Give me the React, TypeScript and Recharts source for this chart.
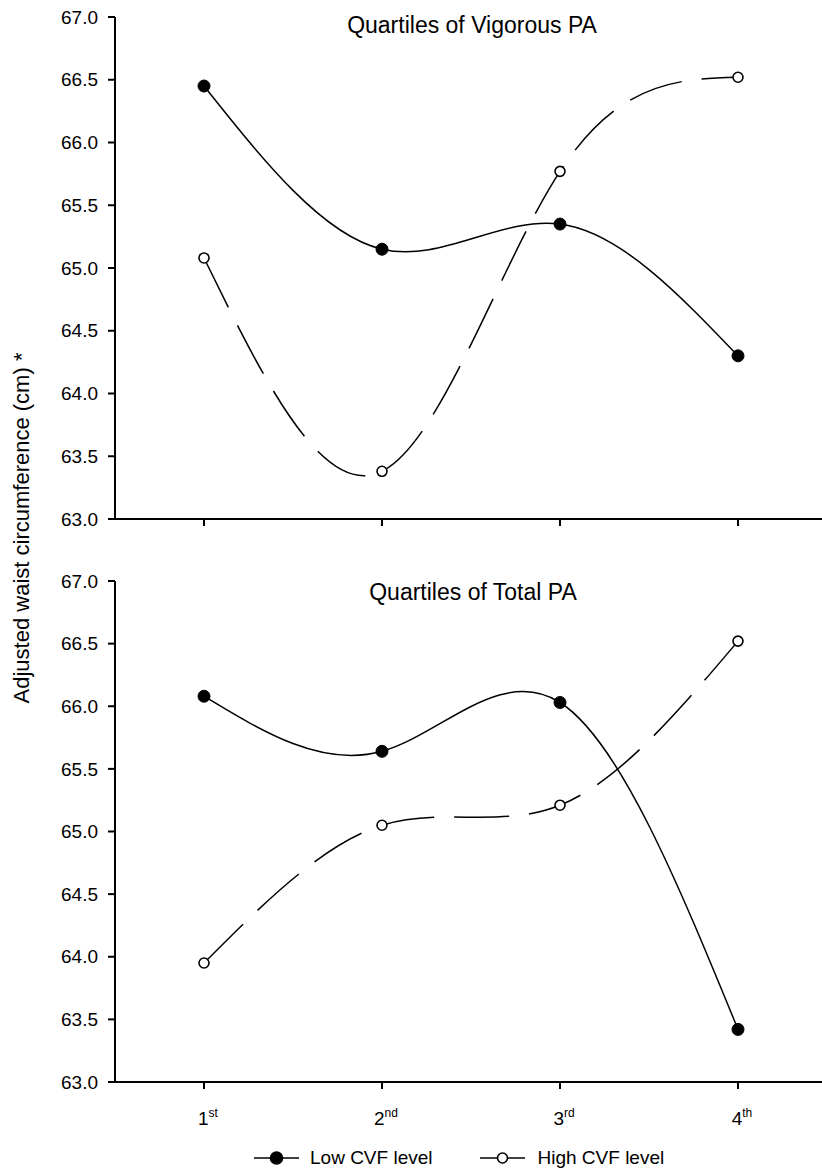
import React from "react";
import { LineChart, Line, XAxis, YAxis } from "recharts";

const quartilePositions = [1, 2, 3, 4];
const quartileNums = ["1", "2", "3", "4"];
const quartileSuffixes = ["st", "nd", "rd", "th"];

const vigorousLow = [66.45, 65.15, 65.35, 64.3];
const vigorousHigh = [65.08, 63.38, 65.77, 66.52];
const totalLow = [66.08, 65.64, 66.03, 63.42];
const totalHigh = [63.95, 65.05, 65.21, 66.52];

const yTicks = [63, 63.5, 64, 64.5, 65, 65.5, 66, 66.5, 67];

const seriesNames = ["Low CVF level", "High CVF level"];
const panelTitles = ["Quartiles of Vigorous PA", "Quartiles of Total PA"];
const yAxisTitle = "Adjusted waist circumference (cm) *";

const FONT = "'Liberation Sans', Arial, sans-serif";

const buildData = (low: number[], high: number[]) =>
  quartilePositions.map((q, i) => ({ q, low: low[i], high: high[i] }));

const QuartileTick = (props: any) => {
  const { x, y, payload } = props;
  const i = quartilePositions.indexOf(payload.value);
  if (i < 0) return <g />;
  return (
    <text x={x + 4} y={y + 34} textAnchor="middle" fontSize={19} fill="#000" fontFamily={FONT}>
      {quartileNums[i]}
      <tspan fontSize={12} dy={-8}>
        {quartileSuffixes[i]}
      </tspan>
    </text>
  );
};

const FilledDot = (props: any) => {
  const { cx, cy, index } = props;
  return <circle key={`f-${index}`} cx={cx} cy={cy} r={6} fill="#000" stroke="#000" strokeWidth={1} />;
};

const OpenDot = (props: any) => {
  const { cx, cy, index } = props;
  return <circle key={`o-${index}`} cx={cx} cy={cy} r={5} fill="#fff" stroke="#000" strokeWidth={1.6} />;
};

function Panel({
  data,
  top,
  height,
  marginTop,
  marginBottom,
  xAxisHeight,
  showLabels,
}: {
  data: { q: number; low: number; high: number }[];
  top: number;
  height: number;
  marginTop: number;
  marginBottom: number;
  xAxisHeight: number;
  showLabels: boolean;
}) {
  return (
    <div style={{ position: "absolute", left: 0, top }}>
      <LineChart
        width={840}
        height={height}
        data={data}
        margin={{ top: marginTop, right: 13, bottom: marginBottom, left: 0 }}
      >
        <XAxis
          dataKey="q"
          type="number"
          domain={[0.5, 4.5]}
          ticks={quartilePositions}
          interval={0}
          height={xAxisHeight}
          tickSize={7}
          axisLine={{ stroke: "#000", strokeWidth: 2 }}
          tickLine={{ stroke: "#000", strokeWidth: 2 }}
          tick={showLabels ? <QuartileTick /> : () => <g />}
        />
        <YAxis
          type="number"
          domain={[63, 67]}
          ticks={yTicks}
          interval={0}
          width={115}
          tickSize={7}
          tickMargin={10}
          tickFormatter={(v: number) => v.toFixed(1)}
          axisLine={{ stroke: "#000", strokeWidth: 2 }}
          tickLine={{ stroke: "#000", strokeWidth: 2 }}
          tick={{ fill: "#000", fontSize: 19, fontFamily: FONT }}
        />
        <Line
          type="natural"
          dataKey="low"
          name={seriesNames[0]}
          stroke="#000"
          strokeWidth={1.5}
          dot={<FilledDot />}
          isAnimationActive={false}
        />
        <Line
          type="natural"
          dataKey="high"
          name={seriesNames[1]}
          stroke="#000"
          strokeWidth={1.5}
          strokeDasharray="55 20"
          dot={<OpenDot />}
          isAnimationActive={false}
        />
      </LineChart>
    </div>
  );
}

const titleStyle = (x: number, y: number, size: number): React.CSSProperties => ({
  position: "absolute",
  left: x,
  top: y,
  transform: "translate(-50%, -50%)",
  fontFamily: FONT,
  fontSize: size,
  lineHeight: 1,
  whiteSpace: "nowrap",
  color: "#000",
});

function LegendSymbol({ filled }: { filled: boolean }) {
  return (
    <svg width={45} height={16} style={{ display: "block" }}>
      <line x1={0} y1={8} x2={45} y2={8} stroke="#000" strokeWidth={1.5} />
      <circle
        cx={22.5}
        cy={8}
        r={filled ? 6 : 5}
        fill={filled ? "#000" : "#fff"}
        stroke="#000"
        strokeWidth={1.6}
      />
    </svg>
  );
}

export default function App() {
  return (
    <div
      style={{
        position: "absolute",
        left: 0,
        top: 0,
        width: 822,
        height: 1171,
        overflow: "hidden",
        background: "#fff",
      }}
    >
      <Panel
        data={buildData(vigorousLow, vigorousHigh)}
        top={0}
        height={540}
        marginTop={17}
        marginBottom={0}
        xAxisHeight={21}
        showLabels={false}
      />
      <Panel
        data={buildData(totalLow, totalHigh)}
        top={560}
        height={590}
        marginTop={21}
        marginBottom={30}
        xAxisHeight={38}
        showLabels={true}
      />

      <div style={titleStyle(472, 25, 23)}>{panelTitles[0]}</div>
      <div style={titleStyle(473, 592, 23)}>{panelTitles[1]}</div>

      <div
        style={{
          ...titleStyle(22, 528, 22),
          transform: "translate(-50%, -50%) rotate(-90deg)",
        }}
      >
        {yAxisTitle}
      </div>

      <div
        style={{
          position: "absolute",
          left: 254,
          top: 1158,
          transform: "translateY(-50%)",
          display: "flex",
          alignItems: "center",
          fontFamily: FONT,
          fontSize: 19,
          color: "#000",
          whiteSpace: "nowrap",
        }}
      >
        <LegendSymbol filled={true} />
        <span style={{ marginLeft: 11, marginRight: 47 }}>{seriesNames[0]}</span>
        <LegendSymbol filled={false} />
        <span style={{ marginLeft: 13 }}>{seriesNames[1]}</span>
      </div>
    </div>
  );
}
